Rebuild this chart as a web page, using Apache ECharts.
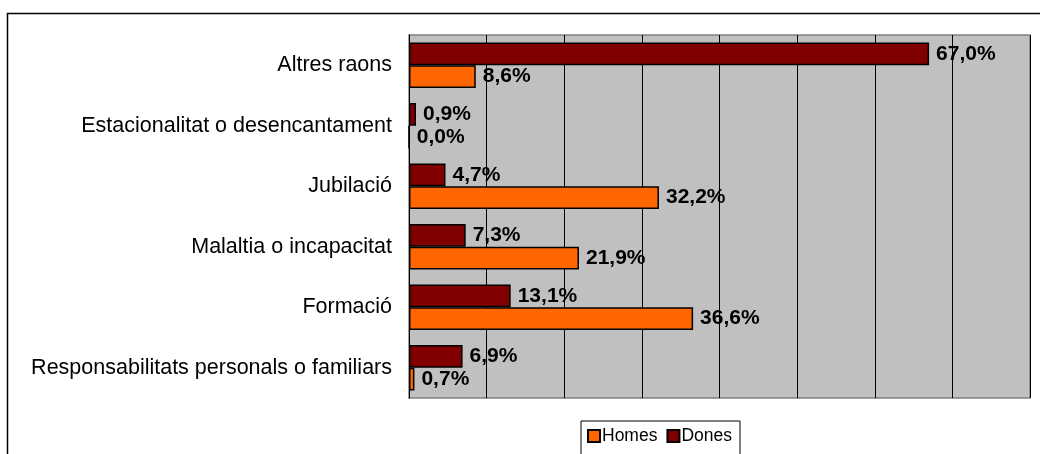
<!DOCTYPE html>
<html>
<head>
<meta charset="utf-8">
<script src="https://cdn.jsdelivr.net/npm/echarts@6/dist/echarts.min.js"></script>
<style>
  html, body { margin: 0; padding: 0; background: #fff; }
  #chart { width: 1040px; height: 454px; }
</style>
</head>
<body>
<div id="chart"></div>
<script>
var categories = ['Responsabilitats personals o familiars', 'Formació', 'Malaltia o incapacitat', 'Jubilació', 'Estacionalitat o desencantament', 'Altres raons'];
var homes = [0.7, 36.6, 21.9, 32.2, 0.0, 8.6];
var dones = [6.9, 13.1, 7.3, 4.7, 0.9, 67.0];

function pct(p) {
    return p.value.toFixed(1).replace('.', ',') + '%';
}

var myChart = echarts.init(document.getElementById('chart'));
myChart.setOption({
    animation: false,
    textStyle: {fontFamily: 'Liberation Sans, Arial, sans-serif'},
    graphic: [
        {
            type: 'rect',
            shape: {x: 7.5, y: 13.5, width: 1100, height: 600},
            style: {fill: null, stroke: '#000', lineWidth: 1.5},
            z: -10
        }
    ],
    grid: {
        left: 409, right: 10, top: 35, bottom: 56,
        show: true,
        backgroundColor: '#C0C0C0',
        borderColor: '#808080',
        borderWidth: 1.5
    },
    legend: {
        data: ['Homes', 'Dones'],
        left: 581, top: 421,
        padding: [6, 8, 10, 6],
        itemGap: 9,
        itemWidth: 12, itemHeight: 12,
        icon: 'rect',
        borderColor: '#000', borderWidth: 1,
        backgroundColor: '#fff',
        textStyle: {fontSize: 17.5, color: '#000', padding: [0, 0, 0, -3]}
    },
    xAxis: {
        type: 'value',
        min: 0, max: 80, interval: 10,
        axisLabel: {show: false},
        axisTick: {show: false},
        axisLine: {show: false},
        splitLine: {lineStyle: {color: '#000', width: 1}}
    },
    yAxis: {
        type: 'category',
        data: categories,
        axisLine: {lineStyle: {color: '#000', width: 1}},
        axisTick: {length: 5, lineStyle: {color: '#000'}},
        axisLabel: {fontSize: 21.5, color: '#000', margin: 17}
    },
    series: [
        {
            name: 'Dones',
            type: 'bar',
            data: dones,
            barGap: '0%',
            barCategoryGap: '25%',
            itemStyle: {color: '#800000', borderColor: '#000', borderWidth: 1.5},
            label: {show: true, position: 'right', formatter: pct, fontSize: 21, fontWeight: 'bold', color: '#000', distance: 7}
        },
        {
            name: 'Homes',
            type: 'bar',
            data: homes,
            itemStyle: {color: '#FF6600', borderColor: '#000', borderWidth: 1.5},
            label: {show: true, position: 'right', formatter: pct, fontSize: 21, fontWeight: 'bold', color: '#000', distance: 7}
        }
    ]
});
</script>
</body>
</html>
